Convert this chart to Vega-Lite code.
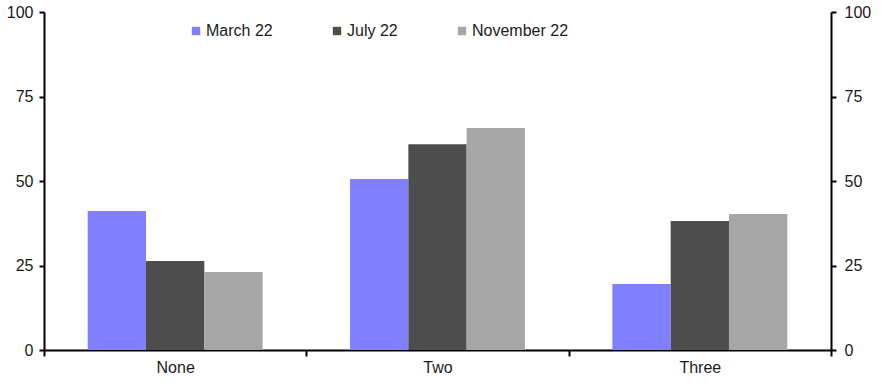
{
  "$schema": "https://vega.github.io/schema/vega-lite/v6.json",
  "autosize": {"type": "none"},
  "width": 787,
  "height": 338,
  "padding": {"left": 44, "top": 12, "right": 55, "bottom": 35},
  "background": "white",
  "config": {
    "view": {"stroke": null},
    "font": "Liberation Sans",
    "axis": {
      "domainColor": "#000000",
      "domainWidth": 2,
      "tickColor": "#000000",
      "tickWidth": 2,
      "tickSize": 5,
      "labelFont": "Liberation Sans",
      "labelFontSize": 16,
      "labelColor": "#1a1a1a",
      "grid": false,
      "title": null
    }
  },
  "data": {
    "values": [
      {"category": "None", "period": "March 22", "value": 41.1},
      {"category": "None", "period": "July 22", "value": 26.3},
      {"category": "None", "period": "November 22", "value": 23.1},
      {"category": "Two", "period": "March 22", "value": 50.6},
      {"category": "Two", "period": "July 22", "value": 60.9},
      {"category": "Two", "period": "November 22", "value": 65.7},
      {"category": "Three", "period": "March 22", "value": 19.5},
      {"category": "Three", "period": "July 22", "value": 38.2},
      {"category": "Three", "period": "November 22", "value": 40.2}
    ]
  },
  "encoding": {
    "x": {
      "field": "category",
      "type": "nominal",
      "sort": ["None", "Two", "Three"],
      "scale": {"paddingInner": 0, "paddingOuter": 0},
      "axis": {"labelAngle": 0, "tickBand": "extent", "tickSize": 6, "labelPadding": 3}
    },
    "xOffset": {
      "field": "period",
      "type": "nominal",
      "sort": ["March 22", "July 22", "November 22"],
      "scale": {"paddingInner": 0, "paddingOuter": 0.75}
    },
    "y": {
      "field": "value",
      "type": "quantitative",
      "scale": {"domain": [0, 100], "nice": false}
    },
    "color": {
      "field": "period",
      "type": "nominal",
      "sort": ["March 22", "July 22", "November 22"],
      "scale": {"domain": ["March 22", "July 22", "November 22"], "range": ["#8080FF", "#4D4D4D", "#A6A6A6"]}
    }
  },
  "layer": [
    {
      "mark": {"type": "bar"},
      "encoding": {
        "y": {
          "field": "value",
          "type": "quantitative",
          "scale": {"domain": [0, 100], "nice": false},
          "axis": {"orient": "left", "values": [0, 25, 50, 75, 100], "labelPadding": 6}
        },
        "color": {
          "field": "period",
          "type": "nominal",
          "sort": ["March 22", "July 22", "November 22"],
          "scale": {"domain": ["March 22", "July 22", "November 22"], "range": ["#8080FF", "#4D4D4D", "#A6A6A6"]},
          "legend": {
            "orient": "none",
            "legendX": 144,
            "legendY": 11,
            "direction": "horizontal",
            "title": null,
            "symbolType": "square",
            "symbolSize": 70,
            "symbolStrokeWidth": 0,
            "labelFont": "Liberation Sans",
            "labelFontSize": 16,
            "labelColor": "#1a1a1a",
            "labelOffset": 2,
            "columnPadding": 56
          }
        }
      }
    },
    {
      "mark": {"type": "bar", "opacity": 0},
      "encoding": {
        "y": {
          "field": "value",
          "type": "quantitative",
          "scale": {"domain": [0, 100], "nice": false},
          "axis": {"orient": "right", "values": [0, 25, 50, 75, 100], "labelPadding": 8}
        }
      }
    }
  ],
  "resolve": {"axis": {"y": "independent"}}
}
